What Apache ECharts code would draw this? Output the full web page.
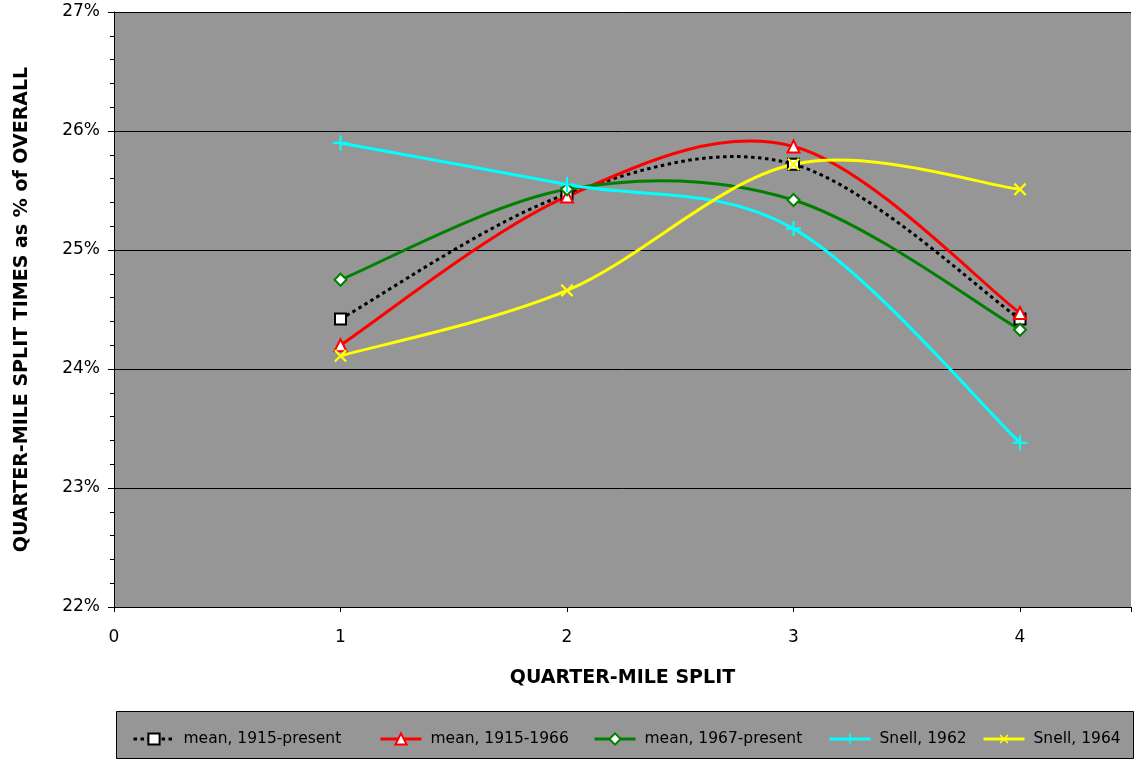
<!DOCTYPE html>
<html><head><meta charset="utf-8">
<script src="https://cdn.jsdelivr.net/npm/echarts@6/dist/echarts.min.js"></script>
<style>html,body{margin:0;padding:0;background:#fff}#c{width:1134px;height:759px}</style>
</head><body><div id="c"></div>
<script>
var splits = [1, 2, 3, 4];
var seriesNames = ['mean, 1915-present', 'mean, 1915-1966', 'mean, 1967-present', 'Snell, 1962', 'Snell, 1964'];
var mean1915Present = [24.42, 25.47, 25.72, 24.42];
var mean1915_1966 = [24.20, 25.45, 25.87, 24.47];
var mean1967Present = [24.75, 25.51, 25.42, 24.33];
var snell1962 = [25.90, 25.55, 25.18, 23.38];
var snell1964 = [24.11, 24.66, 25.72, 25.51];
var yTicks = [22, 23, 24, 25, 26, 27];
var xTicks = [0, 1, 2, 3, 4];

var FONT = 'DejaVu Sans';
var plus = 'path://M4.3,0H5.7V4.3H10V5.7H5.7V10H4.3V5.7H0V4.3H4.3Z';
function pts(arr){ return splits.map(function(x,i){ return [x, arr[i]]; }); }

var defs = [
  {name: seriesNames[0], arr: mean1915Present, color:'#000', dash:[3.5,3.5],
   symbol:'rect', symbolSize:11, itemStyle:{color:'#fff', borderColor:'#000', borderWidth:2}},
  {name: seriesNames[1], arr: mean1915_1966, color:'#ff0000', dash:null,
   symbol:'triangle', symbolSize:12, itemStyle:{color:'#fff', borderColor:'#ff0000', borderWidth:2}},
  {name: seriesNames[2], arr: mean1967Present, color:'#008000', dash:null,
   symbol:'diamond', symbolSize:12, itemStyle:{color:'#fff', borderColor:'#008000', borderWidth:2}},
  {name: seriesNames[3], arr: snell1962, color:'#00ffff', dash:null,
   symbol:plus, symbolSize:15, itemStyle:{color:'#00ffff', borderWidth:0}},
  {name: seriesNames[4], arr: snell1964, color:'#ffff00', dash:null,
   symbol:plus, symbolSize:16, symbolRotate:45, itemStyle:{color:'#ffff00', borderWidth:0}}
];

var series = [];
defs.forEach(function(d){
  var ls = {color:d.color, width:3, opacity:0};
  if (d.dash) { ls.type = d.dash; ls.cap = 'butt'; }
  series.push({type:'line', name:d.name, data:pts(d.arr), color:d.color, lineStyle:ls,
    symbol:d.symbol, symbolSize:d.symbolSize, symbolRotate:d.symbolRotate || 0,
    itemStyle:d.itemStyle, showSymbol:true, showAllSymbol:true, z:4, animation:false});
});
defs.forEach(function(d, si){
  var arr = d.arr;
  series.push({type:'custom', name:'curve ' + si, data:pts(arr), encode:{x:0, y:1}, z:2 + si*0.01, silent:true,
    animation:false,
    renderItem:function(params, api){
      var i = params.dataIndex, n = arr.length;
      if (i >= n - 1) return null;
      var P = function(k){ k = Math.max(0, Math.min(n - 1, k)); return api.coord([splits[k], arr[k]]); };
      var p0 = P(i - 1), p1 = P(i), p2 = P(i + 1), p3 = P(i + 2);
      var c1 = [p1[0] + (p2[0] - p0[0]) / 6, p1[1] + (p2[1] - p0[1]) / 6];
      var c2 = [p2[0] - (p3[0] - p1[0]) / 6, p2[1] - (p3[1] - p1[1]) / 6];
      return {type:'bezierCurve',
        shape:{x1:p1[0], y1:p1[1], x2:p2[0], y2:p2[1], cpx1:c1[0], cpy1:c1[1], cpx2:c2[0], cpy2:c2[1]},
        style:{stroke:d.color, lineWidth:3, fill:null, lineDash:d.dash || null, lineCap:'butt'}};
    }});
});

var legendLefts = [127, 374, 588, 823, 977];
var legends = seriesNames.map(function(n, i){
  return {data:[{name:n}], left: legendLefts[i], top: 726, itemWidth: 41, itemHeight: 14, itemGap: 0,
    lineStyle:{opacity:1, width:3},
    textStyle:{fontFamily:FONT, fontSize:15.5, color:'#000', padding:[0,0,0,4]}};
});

var chart = echarts.init(document.getElementById('c'));
chart.setOption({
  animation:false,
  backgroundColor:'#fff',
  grid:{left:114, right:0, top:12, bottom:152, show:true, backgroundColor:'#969696', borderWidth:0},
  graphic:[{type:'rect', left:116, top:711, shape:{width:1017, height:47}, style:{fill:'#969696', stroke:'#000', lineWidth:1}, z:-1}],
  legend: legends,
  xAxis:{type:'value', min:0, max:4.49, interval:1,
    name:'QUARTER-MILE SPLIT', nameLocation:'middle', nameGap:62,
    nameTextStyle:{fontFamily:FONT, fontSize:19, fontWeight:'bold', color:'#000'},
    axisLine:{show:true, onZero:false, lineStyle:{color:'#000', width:1}},
    axisTick:{show:true, length:5, lineStyle:{color:'#000'}},
    axisLabel:{fontFamily:FONT, fontSize:17, color:'#000', margin:22,
      formatter:function(v){ return xTicks.indexOf(v) >= 0 ? String(v) : ''; }},
    splitLine:{show:false}},
  yAxis:{type:'value', min:22, max:27, interval:1,
    name:'QUARTER-MILE SPLIT TIMES as % of OVERALL', nameLocation:'middle', nameGap:82, nameRotate:90,
    nameTextStyle:{fontFamily:FONT, fontSize:19, fontWeight:'bold', color:'#000'},
    axisLine:{show:true, onZero:false, lineStyle:{color:'#000', width:1}},
    axisTick:{show:true, length:6, lineStyle:{color:'#000'}},
    minorTick:{show:true, splitNumber:5, length:4, lineStyle:{color:'#000'}},
    axisLabel:{fontFamily:FONT, fontSize:17, color:'#000', margin:14,
      formatter:function(v){ return yTicks.indexOf(v) >= 0 ? v + '%' : ''; }},
    splitLine:{show:true, lineStyle:{color:'#000', width:1}}},
  series: series
});
</script></body></html>
